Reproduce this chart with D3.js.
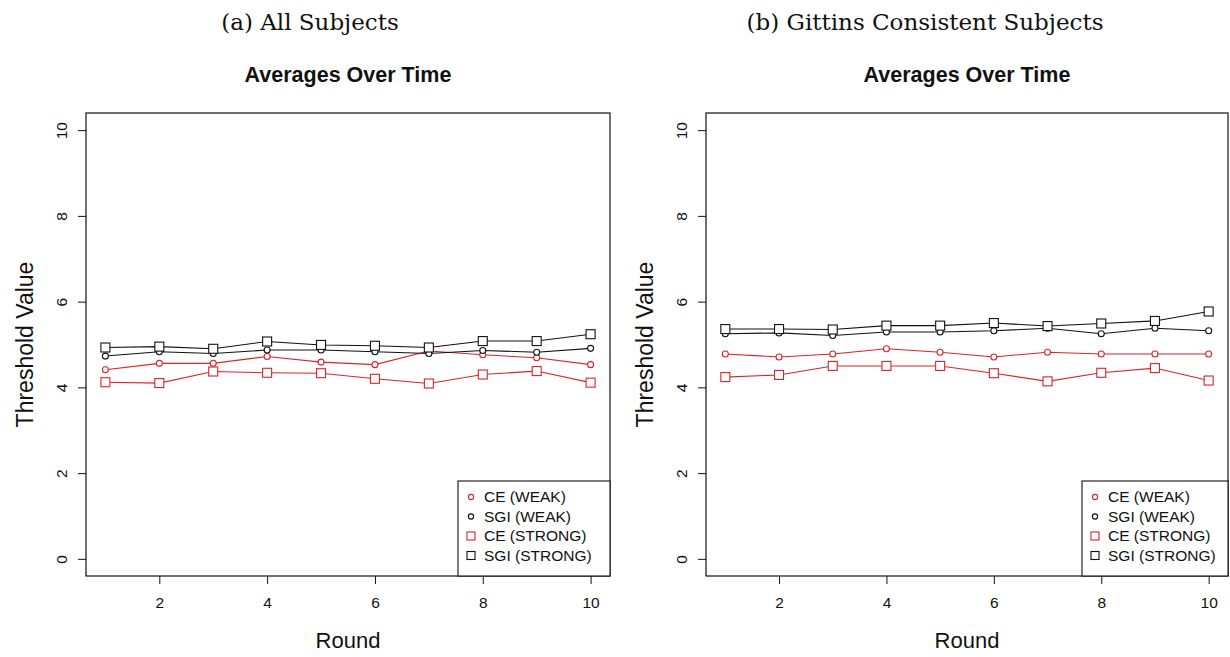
<!DOCTYPE html>
<html>
<head>
<meta charset="utf-8">
<script src="https://cdn.jsdelivr.net/npm/d3@7"></script>
<style>
  body { margin: 0; background: #fff; }
  svg text { fill: #111; }
</style>
</head>
<body>
<div id="chart"></div>
<script>
// rounds on the x axis
var rounds = [1, 2, 3, 4, 5, 6, 7, 8, 9, 10];

// (a) all subjects
var allCeWeak    = [4.41, 4.56, 4.56, 4.72, 4.59, 4.53, 4.85, 4.76, 4.69, 4.53];
var allSgiWeak   = [4.73, 4.83, 4.79, 4.87, 4.87, 4.83, 4.79, 4.86, 4.82, 4.91];
var allCeStrong  = [4.12, 4.10, 4.37, 4.34, 4.33, 4.20, 4.09, 4.30, 4.38, 4.11];
var allSgiStrong = [4.93, 4.95, 4.90, 5.07, 4.99, 4.97, 4.93, 5.08, 5.08, 5.24];

// (b) gittins consistent subjects
var gitCeWeak    = [4.78, 4.71, 4.78, 4.90, 4.82, 4.71, 4.82, 4.78, 4.78, 4.78];
var gitSgiWeak   = [5.25, 5.27, 5.21, 5.29, 5.29, 5.32, 5.38, 5.25, 5.38, 5.32];
var gitCeStrong  = [4.24, 4.29, 4.50, 4.50, 4.50, 4.33, 4.14, 4.34, 4.45, 4.16];
var gitSgiStrong = [5.36, 5.36, 5.35, 5.44, 5.44, 5.50, 5.43, 5.49, 5.55, 5.77];

var xTicks = [2, 4, 6, 8, 10];
var yTicks = [0, 2, 4, 6, 8, 10];
var legendLabels = ["CE (WEAK)", "SGI (WEAK)", "CE (STRONG)", "SGI (STRONG)"];
var captions = ["(a) All Subjects", "(b) Gittins Consistent Subjects"];

var RED = "#dc2328", BLACK = "#111";
var SANS = "'Liberation Sans', Arial, sans-serif";

var svg = d3.select("#chart").append("svg")
  .attr("width", 1230).attr("height", 657);

function drawPanel(g, opts) {
  // opts: box, caption, series
  var b = opts.box;
  var x = d3.scaleLinear().domain([0.64, 10.36]).range([b.left, b.right]);
  var y = d3.scaleLinear().domain([-0.4, 10.4]).range([b.bottom, b.top]);

  // caption above
  g.append("text")
    .attr("x", opts.capX).attr("y", 30)
    .attr("text-anchor", "middle")
    .style("font-family", "'DejaVu Serif', 'Liberation Serif', serif")
    .style("font-size", "23px")
    .text(opts.caption);

  g.append("text")
    .attr("x", (b.left + b.right) / 2).attr("y", 82)
    .attr("text-anchor", "middle")
    .style("font-family", SANS)
    .style("font-weight", "bold")
    .style("font-size", "21.5px")
    .text("Averages Over Time");

  // axes
  var xAxis = d3.axisBottom(x).tickValues(xTicks).tickSize(8).tickSizeOuter(0).tickPadding(13);
  var yAxis = d3.axisLeft(y).tickValues(yTicks).tickSize(8).tickSizeOuter(0);

  var gx = g.append("g")
    .attr("transform", "translate(0," + b.bottom + ")")
    .call(xAxis);
  gx.select(".domain").remove();
  gx.selectAll("text")
    .style("font-family", SANS)
    .style("font-size", "15.5px").attr("fill", "#111");
  gx.selectAll("line").attr("stroke", BLACK);

  var gy = g.append("g")
    .attr("transform", "translate(" + b.left + ",0)")
    .call(yAxis);
  gy.select(".domain").remove();
  gy.selectAll("line").attr("stroke", BLACK);
  gy.selectAll("text")
    .style("font-family", SANS)
    .style("font-size", "15.5px").attr("fill", "#111")
    .attr("x", null).attr("dy", null)
    .attr("text-anchor", "middle")
    .attr("transform", "translate(-24,0) rotate(-90)")
    .attr("y", 0).attr("dy", "0.35em");

  // box
  g.append("rect")
    .attr("x", b.left).attr("y", b.top)
    .attr("width", b.right - b.left).attr("height", b.bottom - b.top)
    .attr("fill", "none").attr("stroke", BLACK).attr("stroke-width", 1.2);

  g.append("text")
    .attr("x", (b.left + b.right) / 2).attr("y", 648)
    .attr("text-anchor", "middle")
    .style("font-family", SANS)
    .style("font-size", "22px")
    .text("Round");

  g.append("text")
    .attr("transform", "translate(" + (b.left - 53) + "," + ((b.top + b.bottom) / 2) + ") rotate(-90)")
    .attr("text-anchor", "middle")
    .style("font-family", SANS)
    .style("font-size", "23px")
    .text("Threshold Value");

  var line = d3.line()
    .x(function(d, i) { return x(rounds[i]); })
    .y(function(d) { return y(d); });

  opts.series.forEach(function(s) {
    g.append("path")
      .datum(s.values)
      .attr("d", line)
      .attr("fill", "none")
      .attr("stroke", s.color)
      .attr("stroke-width", 1.1);

    var pts = g.selectAll(null).data(s.values).enter();
    if (s.shape == "circle") {
      pts.append("circle")
        .attr("cx", function(d, i) { return x(rounds[i]); })
        .attr("cy", function(d) { return y(d); })
        .attr("r", 3)
        .attr("fill", "#fff").attr("stroke", s.color).attr("stroke-width", 1.1);
    } else {
      pts.append("rect")
        .attr("x", function(d, i) { return x(rounds[i]) - 4.5; })
        .attr("y", function(d) { return y(d) - 4.5; })
        .attr("width", 9).attr("height", 9)
        .attr("fill", "#fff").attr("stroke", s.color).attr("stroke-width", 1.1);
    }
  });

  // legend box, bottom right
  var lw = opts.legendW, lh = 95;
  var lx = b.right - lw, ly = b.bottom - lh;
  var leg = g.append("g").attr("transform", "translate(" + lx + "," + ly + ")");
  leg.append("rect")
    .attr("width", lw).attr("height", lh)
    .attr("fill", "#fff").attr("stroke", BLACK).attr("stroke-width", 1.1);
  opts.series.forEach(function(s, i) {
    var yy = 16 + i * 19.5;
    if (s.shape == "circle") {
      leg.append("circle").attr("cx", 13).attr("cy", yy).attr("r", 2.6)
        .attr("fill", "none").attr("stroke", s.color).attr("stroke-width", 1.1);
    } else {
      leg.append("rect").attr("x", 9).attr("y", yy - 4).attr("width", 8).attr("height", 8)
        .attr("fill", "none").attr("stroke", s.color).attr("stroke-width", 1.1);
    }
    leg.append("text")
      .attr("x", 26).attr("y", yy).attr("dy", "0.35em")
      .style("font-family", SANS)
      .style("font-size", "15.5px")
      .text(legendLabels[i]);
  });
}

drawPanel(svg.append("g"), {
  box: {left: 86, right: 610, top: 113, bottom: 576},
  capX: 310,
  caption: captions[0],
  legendW: 152,
  series: [
    {values: allCeWeak, color: RED, shape: "circle"},
    {values: allSgiWeak, color: BLACK, shape: "circle"},
    {values: allCeStrong, color: RED, shape: "square"},
    {values: allSgiStrong, color: BLACK, shape: "square"}
  ]
});

drawPanel(svg.append("g"), {
  box: {left: 706, right: 1228, top: 113, bottom: 576},
  capX: 925,
  caption: captions[1],
  legendW: 146,
  series: [
    {values: gitCeWeak, color: RED, shape: "circle"},
    {values: gitSgiWeak, color: BLACK, shape: "circle"},
    {values: gitCeStrong, color: RED, shape: "square"},
    {values: gitSgiStrong, color: BLACK, shape: "square"}
  ]
});
</script>
</body>
</html>
